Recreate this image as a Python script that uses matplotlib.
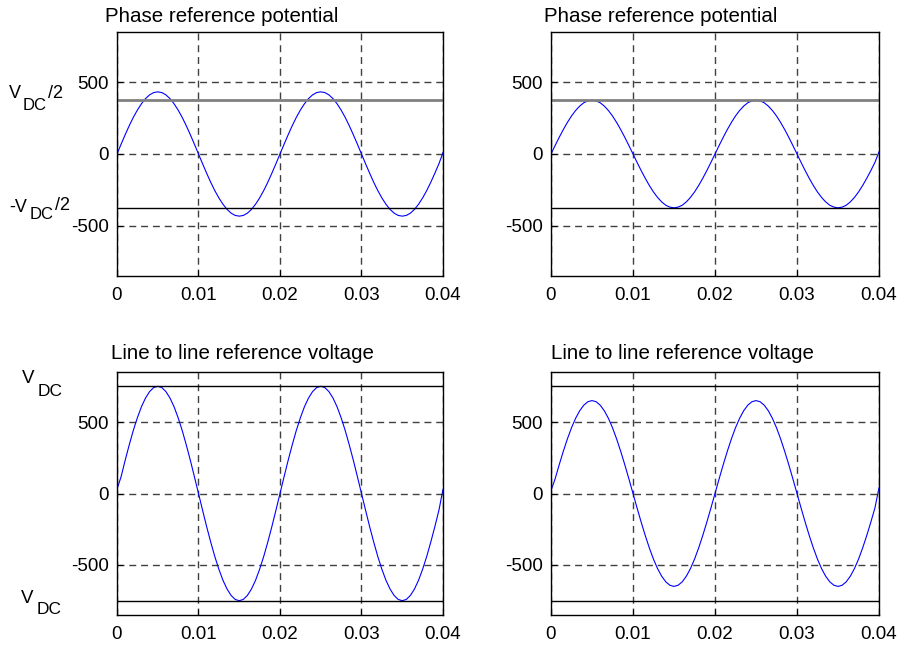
import matplotlib
matplotlib.use('Agg')
import matplotlib.pyplot as plt

plt.rcParams['font.family'] = ['Liberation Sans', 'DejaVu Sans']

# time axis, one sample every 0.5 ms
t = [i * 0.0005 for i in range(81)]

# values (V), one list per panel
phase_a = [0, 68, 134, 197, 255, 306, 350, 386, 412, 428, 433, 428, 412, 386, 350, 306, 255, 197, 134, 68,
           0, -68, -134, -197, -255, -306, -350, -386, -412, -428, -433, -428, -412, -386, -350, -306, -255, -197, -134, -68,
           0, 68, 134, 197, 255, 306, 350, 386, 412, 428, 433, 428, 412, 386, 350, 306, 255, 197, 134, 68,
           0, -68, -134, -197, -255, -306, -350, -386, -412, -428, -433, -428, -412, -386, -350, -306, -255, -197, -134, -68, 10]
phase_b = [0, 59, 116, 170, 220, 265, 303, 334, 357, 370, 375, 370, 357, 334, 303, 265, 220, 170, 116, 59,
           0, -59, -116, -170, -220, -265, -303, -334, -357, -370, -375, -370, -357, -334, -303, -265, -220, -170, -116, -59,
           0, 59, 116, 170, 220, 265, 303, 334, 357, 370, 375, 370, 357, 334, 303, 265, 220, 170, 116, 59,
           0, -59, -116, -170, -220, -265, -303, -334, -357, -370, -375, -370, -357, -334, -303, -265, -220, -170, -116, -59, 15]
line_a = [30, 117, 232, 340, 441, 530, 607, 668, 713, 741, 750, 741, 713, 668, 607, 530, 441, 340, 232, 117,
          0, -117, -232, -340, -441, -530, -607, -668, -713, -741, -750, -741, -713, -668, -607, -530, -441, -340, -232, -117,
          0, 117, 232, 340, 441, 530, 607, 668, 713, 741, 750, 741, 713, 668, 607, 530, 441, 340, 232, 117,
          0, -117, -232, -340, -441, -530, -607, -668, -713, -741, -750, -741, -713, -668, -607, -530, -441, -340, -232, -117, 30]
line_b = [20, 102, 201, 295, 382, 460, 526, 579, 618, 642, 650, 642, 618, 579, 526, 460, 382, 295, 201, 102,
          0, -102, -201, -295, -382, -460, -526, -579, -618, -642, -650, -642, -618, -579, -526, -460, -382, -295, -201, -102,
          0, 102, 201, 295, 382, 460, 526, 579, 618, 642, 650, 642, 618, 579, 526, 460, 382, 295, 201, 102,
          0, -102, -201, -295, -382, -460, -526, -579, -618, -642, -650, -642, -618, -579, -526, -460, -382, -295, -201, -102, 40]

vdc = 750
xticks = [0, 0.01, 0.02, 0.03, 0.04]
xticklabels = ['0', '0.01', '0.02', '0.03', '0.04']
yticks = [-500, 0, 500]
yticklabels = ['-500', '0', '500']

W, H = 904, 649
fig = plt.figure(figsize=(W / 100, H / 100), dpi=100)


def px_axes(l, t_, r, b):
    return fig.add_axes([l / W, 1 - b / H, (r - l) / W, (b - t_) / H])


def px_text(x, y, s, size):
    # x, y = left / top of the glyphs in pixels
    fig.text(x / W, 1 - y / H, s, fontsize=size, ha='left', va='top')


# axes, data, title, limit line, title left px, title pad
panels = [
    (px_axes(117, 32, 443, 276), phase_a, 'Phase reference potential', vdc / 2, 105, 7.5),
    (px_axes(551, 32, 879, 276), phase_b, 'Phase reference potential', vdc / 2, 544, 7.5),
    (px_axes(117, 372, 443, 615), line_a, 'Line to line reference voltage', vdc, 111, 9.5),
    (px_axes(551, 372, 879, 615), line_b, 'Line to line reference voltage', vdc, 551, 9.5),
]

for i, (ax, y, title, lim, tx, tpad) in enumerate(panels):
    ax.plot(t, y, color='#0000ff', lw=0.8)
    top_col, top_lw = ('#808080', 2.0) if i < 2 else ('black', 1.0)
    ax.axhline(lim, color=top_col, lw=top_lw)
    ax.axhline(-lim, color='black', lw=1.0)
    ax.set_xlim(0, 0.04)
    ax.set_ylim(-850, 850)
    ax.set_xticks(xticks)
    ax.set_xticklabels(xticklabels)
    ax.set_yticks(yticks)
    ax.set_yticklabels(yticklabels)
    ax.grid(True, color='#404040', ls=(0, (5, 3.5)), lw=1.0)
    ax.tick_params(direction='in', length=4, labelsize=13.5, width=0.8)
    ax.tick_params(axis='x', pad=8)
    ax.tick_params(axis='y', pad=6)
    for s in ax.spines.values():
        s.set_linewidth(1.0)
    pos = ax.get_position()
    ax.set_title(title, fontsize=14.8, loc='left',
                 x=(tx / W - pos.x0) / pos.width, pad=tpad)

# left-hand labels, V with a lowered DC
px_text(9, 85, 'V', 13)
px_text(23, 98, 'DC', 12)
px_text(48, 85, '/2', 13)

px_text(9, 199, '-V', 13)
px_text(30, 207, 'DC', 12)
px_text(55, 197, '/2', 13)

px_text(22, 370, 'V', 13.5)
px_text(38, 384, 'DC', 12.5)

px_text(21, 590, 'V', 13.5)
px_text(37, 602, 'DC', 12.5)

fig.savefig('out.png', dpi=100)
